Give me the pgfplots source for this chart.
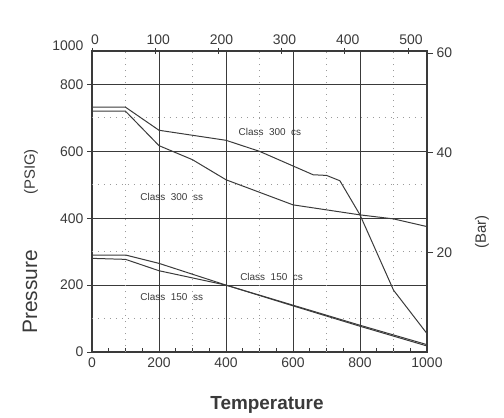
\documentclass[border=0pt]{standalone}
\usepackage{pgfplots}
\pgfplotsset{compat=1.18}
\usepackage{fontspec}
\setmainfont{Liberation Sans}
\definecolor{ink}{HTML}{3A3A3A}
\definecolor{dotc}{HTML}{9A9A9A}
\begin{document}
\begin{tikzpicture}
\useasboundingbox (0,0) rectangle (504bp,418bp);
\begin{axis}[
  at={(92bp,66bp)}, anchor=south west,
  width=335bp, height=301bp, scale only axis,
  xmin=0, xmax=1000, ymin=0, ymax=900,
  axis line style={ink, line width=1.4pt},
  xtick={0,200,...,1000}, ytick={0,200,...,800},
  minor x tick num=3,
  xtick pos=bottom, ytick pos=left,
  x tick style={ink, line width=0.8pt}, y tick style={ink, line width=0.8pt},
  xtick align=inside, ytick align=outside,
  major tick length=5bp, minor tick length=4bp,
  grid=major,
  major grid style={ink, line width=0.7pt},
  extra x ticks={100,300,500,700,900},
  extra y ticks={100,300,500,700},
  extra x tick labels={}, extra y tick labels={},
  extra x tick style={grid=major, major grid style={dotc, line width=1pt, dash pattern=on 1pt off 5pt}, major tick length=0pt},
  extra y tick style={grid=major, major grid style={dotc, line width=1pt, dash pattern=on 1pt off 5pt}, major tick length=0pt},
  tick label style={font=\fontsize{14}{14}\selectfont, text=ink},
  xticklabel style={yshift=-2bp},
  /pgf/number format/assume math mode=true,
  /pgf/number format/1000 sep={},
  clip=false,
]
% Class 300 cs
\addplot[ink, line width=1pt] coordinates {
(0,732) (100,732) (200,663) (400,633) (500,600) (660,530) (700,528) (740,512) (800,410) (900,185) (1000,55)};
% Class 300 ss
\addplot[ink, line width=1pt] coordinates {
(0,720) (100,720) (200,617) (300,575) (400,515) (600,440) (800,410) (900,398) (1000,375)};
% Class 150 cs
\addplot[ink, line width=1pt] coordinates {
(0,290) (100,290) (200,265) (400,200) (600,140) (800,80) (1000,22)};
% Class 150 ss
\addplot[ink, line width=1pt] coordinates {
(0,280) (100,277) (200,243) (400,200) (600,138) (800,77) (1000,18)};
\node[font=\fontsize{10}{10}\selectfont, text=ink] at (axis cs:531,657) {Class\ \ 300\ \ cs};
\node[font=\fontsize{10}{10}\selectfont, text=ink] at (axis cs:238,464) {Class\ \ 300\ \ ss};
\node[font=\fontsize{10}{10}\selectfont, text=ink] at (axis cs:536,225) {Class\ \ 150\ \ cs};
\node[font=\fontsize{10}{10}\selectfont, text=ink] at (axis cs:238,165) {Class\ \ 150\ \ ss};
\node[anchor=east, font=\fontsize{14}{14}\selectfont, text=ink, xshift=-5bp, yshift=5bp] at (axis cs:0,900) {1000};
\end{axis}
\begin{axis}[
  at={(92bp,66bp)}, anchor=south west,
  width=335bp, height=301bp, scale only axis,
  xmin=0, xmax=530, ymin=0, ymax=60.4,
  axis x line*=top, axis y line*=right,
  axis line style={ink, line width=1.4pt},
  xtick={0,100,...,500}, ytick={20,40,60},
  x tick style={ink, line width=0.8pt}, y tick style={ink, line width=0.8pt},
  xtick align=center, ytick align=outside,
  major tick length=6bp,
  tick label style={font=\fontsize{14}{14}\selectfont, text=ink},
  xticklabel style={xshift=3bp},
  /pgf/number format/assume math mode=true,
  /pgf/number format/1000 sep={},
]
\addplot[draw=none] coordinates {(0,0)};
\end{axis}
\node[rotate=90, text=ink, font=\fontsize{21}{21}\selectfont] at (30bp,126bp) {Pressure};
\node[rotate=90, text=ink, font=\fontsize{15}{15}\selectfont] at (31bp,246bp) {(PSIG)};
\node[rotate=90, text=ink, font=\fontsize{15}{15}\selectfont] at (482bp,186bp) {(Bar)};
\node[text=ink, font=\fontsize{19}{19}\selectfont\bfseries] at (267bp,13bp) {Temperature};
\end{tikzpicture}
\end{document}
